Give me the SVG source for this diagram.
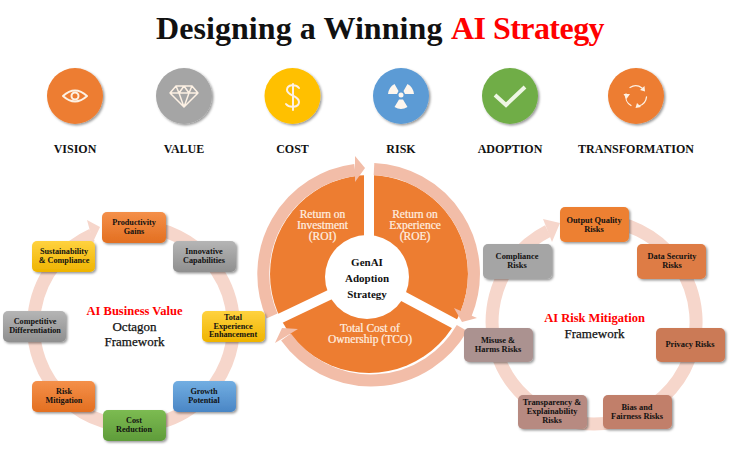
<svg xmlns="http://www.w3.org/2000/svg" width="730" height="450" viewBox="0 0 730 450">
<defs>
<filter id="sh" x="-20%" y="-20%" width="150%" height="150%"><feDropShadow dx="1.5" dy="1.5" stdDeviation="1.2" flood-color="#000" flood-opacity="0.4"/></filter>
<linearGradient id="gO" x1="0" y1="0" x2="0" y2="1"><stop offset="0" stop-color="#f4904a"/><stop offset="1" stop-color="#e36f20"/></linearGradient>
<linearGradient id="gG" x1="0" y1="0" x2="0" y2="1"><stop offset="0" stop-color="#b5b5b5"/><stop offset="1" stop-color="#8f8f8f"/></linearGradient>
<linearGradient id="gY" x1="0" y1="0" x2="0" y2="1"><stop offset="0" stop-color="#ffd23f"/><stop offset="1" stop-color="#efb400"/></linearGradient>
<linearGradient id="gB" x1="0" y1="0" x2="0" y2="1"><stop offset="0" stop-color="#72aee2"/><stop offset="1" stop-color="#4a86c5"/></linearGradient>
<linearGradient id="gN" x1="0" y1="0" x2="0" y2="1"><stop offset="0" stop-color="#7cbb52"/><stop offset="1" stop-color="#5f9c3a"/></linearGradient>
</defs>
<style>
text{font-family:"Liberation Serif","Times New Roman",serif;fill:#111;text-anchor:middle}
.t{font-size:32px;font-weight:700;text-anchor:start}
.red{fill:#f00}
.l{font-size:12px;font-weight:700}
.n{font-size:8.2px;font-weight:700}
.m{font-size:8.4px;font-weight:700}
.c{font-size:11px;font-weight:700}
.w{font-size:11.5px;fill:#fff0e2;stroke:#fff0e2;stroke-width:.2}
.f{font-size:12.5px;font-weight:700}
.g{font-size:13px;stroke:#111;stroke-width:.25}
.box{filter:url(#sh);stroke:none}
.ring{fill:none;stroke:#f6d6cb;stroke-width:13}
.band{fill:none;stroke:#f2bda8;stroke-width:12}
.ic{fill:none;stroke:#fdf1e4;stroke-linecap:round;stroke-linejoin:round}
</style>
<rect width="730" height="450" fill="#fff"/>
<text class="t" x="156" y="39" letter-spacing="0.07">Designing a Winning</text>
<text class="t red" x="451" y="39" letter-spacing="-0.55">AI Strategy</text>

<g id="vision"><circle class="box" cx="75" cy="96" r="28" fill="#ed7d31"/><path class="ic" stroke-width="2" d="M63 96Q75 85 87 96Q75 107 63 96Z"/><circle class="ic" stroke-width="2" cx="75" cy="96" r="3.500"/><text class="l" x="75" y="153">VISION</text></g>
<g id="value"><circle class="box" cx="184" cy="96" r="28" fill="#a5a5a5"/><path class="ic" stroke-width="1.5" d="M176 86H192L198 93L184 107L170 93ZM170 93H198M176 86L179 93L184 107L189 93L192 86M179 93L184 86L189 93"/><text class="l" x="184" y="153">VALUE</text></g>
<g id="cost"><circle class="box" cx="292.500" cy="96" r="28" fill="#ffc000"/><path class="ic" stroke-width="2" d="M299 88C296 84 287 84 287 90C287 96 299 95 299 102C299 108 289 108 286 104M293 84V110"/><text class="l" x="292.500" y="153">COST</text></g>
<g id="risk"><circle class="box" cx="401" cy="96" r="28" fill="#5b9bd5"/><path fill="#fdf6ee" d="M388 94A13 13 0 0 1 394.500 84L398.500 91L397 94ZM414 94A13 13 0 0 0 407.500 84L403.500 91L405 94ZM394.500 107A13 13 0 0 0 407.500 107L403 99.500H399Z"/><circle cx="401" cy="95" r="2.500" fill="#fdf6ee"/><text class="l" x="401" y="153">RISK</text></g>
<g id="adoption"><circle class="box" cx="510" cy="96" r="28" fill="#70ad47"/><path fill="none" stroke="#eef6e4" stroke-width="4" d="M495 95L506 105L525 87"/><text class="l" x="510" y="153">ADOPTION</text></g>
<g id="transformation"><circle class="box" cx="636" cy="96" r="28" fill="#ed7d31"/><path class="ic" stroke-width="1.3" d="M630 87.500A10.500 10.500 0 0 1 642 88M646.500 97A10.500 10.500 0 0 1 639 106M631 105.500A10.500 10.500 0 0 1 626 94"/><path fill="#fdf1e4" d="M644.500 86L645 91.500L640 90ZM637 103L641 107L635.500 108ZM623.500 94L630 94L626.500 99Z"/><text class="l" x="636" y="153">TRANSFORMATION</text></g>

<g id="connectors">
<path class="ring" d="M134 226A100 100 0 1 1 92 235"/>
<polygon fill="#f6d6cb" points="87,220 100,227 93,242"/>
<path class="ring" d="M594.500 220A102 102 0 1 1 548 231"/>
<polygon fill="#f6d6cb" points="543,219 560,223 552,242"/>
</g>

<g id="center">
<circle cx="369" cy="274" r="99" fill="#ed7d31"/>
<path stroke="#fff" stroke-width="10" fill="none" d="M369 150V277M367 277L262 327M367 277L470 332"/>
<path class="band" d="M272 316A105 105 0 0 1 355 170"/>
<polygon fill="#f2bda8" points="355,156 365,168 355,182"/>
<path class="band" d="M374 169A105 105 0 0 1 466 314"/>
<polygon fill="#f2bda8" points="454,308 477,318 462,322"/>
<path class="band" d="M462 328A105 105 0 0 1 286 337"/>
<polygon fill="#f2bda8" points="298,329 275,343 282,328"/>
<circle cx="367" cy="277" r="42" fill="#fff"/>
<text class="w" x="322.500" y="218">Return on</text><text class="w" x="322.500" y="229">Investment</text><text class="w" x="322.500" y="240">(ROI)</text>
<text class="w" x="415" y="218">Return on</text><text class="w" x="415" y="229">Experience</text><text class="w" x="415" y="240">(ROE)</text>
<text class="w" x="370" y="332">Total Cost of</text><text class="w" x="370" y="343">Ownership (TCO)</text>
<text class="c" x="367" y="266">GenAI</text><text class="c" x="367" y="282">Adoption</text><text class="c" x="367" y="298">Strategy</text>
</g>

<g id="n1"><rect class="box" x="102" y="212" width="64" height="31" rx="5" fill="url(#gO)"/><text class="n" x="134" y="225">Productivity</text><text class="n" x="134" y="233.500">Gains</text></g>
<g id="n2"><rect class="box" x="173" y="241" width="63" height="31" rx="5" fill="url(#gG)"/><text class="n" x="204" y="254">Innovative</text><text class="n" x="204" y="262.500">Capabilities</text></g>
<g id="n3"><rect class="box" x="202" y="311" width="63" height="31" rx="5" fill="url(#gY)"/><text class="n" x="233" y="320">Total</text><text class="n" x="233" y="328.500">Experience</text><text class="n" x="233" y="337">Enhancement</text></g>
<g id="n4"><rect class="box" x="173" y="381" width="63" height="31" rx="5" fill="url(#gB)"/><text class="n" x="204" y="394">Growth</text><text class="n" x="204" y="402.500">Potential</text></g>
<g id="n5"><rect class="box" x="103" y="410" width="63" height="31" rx="5" fill="url(#gN)"/><text class="n" x="134" y="423">Cost</text><text class="n" x="134" y="431.500">Reduction</text></g>
<g id="n6"><rect class="box" x="32" y="381" width="63" height="31" rx="5" fill="url(#gO)"/><text class="n" x="64" y="394">Risk</text><text class="n" x="64" y="402.500">Mitigation</text></g>
<g id="n7"><rect class="box" x="3" y="311" width="63" height="31" rx="5" fill="url(#gG)"/><text class="n" x="35" y="324">Competitive</text><text class="n" x="35" y="332.500">Differentiation</text></g>
<g id="n8"><rect class="box" x="32" y="241" width="63" height="31" rx="5" fill="url(#gY)"/><text class="n" x="64" y="254">Sustainability</text><text class="n" x="64" y="262.500">&amp; Compliance</text></g>

<g id="r1"><rect class="box" x="560" y="207" width="69" height="35" rx="5" fill="#ed8033"/><text class="m" x="594" y="222.500">Output Quality</text><text class="m" x="594" y="231.500">Risks</text></g>
<g id="r2"><rect class="box" x="637" y="244" width="69" height="35" rx="5" fill="#de7c45"/><text class="m" x="672" y="259">Data Security</text><text class="m" x="672" y="268">Risks</text></g>
<g id="r3"><rect class="box" x="656" y="328" width="69" height="34" rx="5" fill="#cb7a56"/><text class="m" x="690" y="347">Privacy Risks</text></g>
<g id="r4"><rect class="box" x="603" y="395" width="69" height="34" rx="5" fill="#c17f6b"/><text class="m" x="637" y="410">Bias and</text><text class="m" x="637" y="419">Fairness Risks</text></g>
<g id="r5"><rect class="box" x="518" y="395" width="69" height="34" rx="5" fill="#b78a81"/><text class="m" x="552" y="405">Transparency &amp;</text><text class="m" x="552" y="414">Explainability</text><text class="m" x="552" y="423">Risks</text></g>
<g id="r6"><rect class="box" x="464" y="328" width="69" height="34" rx="5" fill="#ab9290"/><text class="m" x="498" y="343">Misuse &amp;</text><text class="m" x="498" y="352">Harms Risks</text></g>
<g id="r7"><rect class="box" x="483" y="244" width="69" height="35" rx="5" fill="#a5a5a5"/><text class="m" x="517" y="259">Compliance</text><text class="m" x="517" y="268">Risks</text></g>

<g id="left-label"><text class="f" x="134.500" y="315" style="fill:#f00">AI Business Value</text><text class="g" x="134.500" y="331">Octagon</text><text class="g" x="134.500" y="346">Framework</text></g>
<g id="right-label"><text class="f" x="594.500" y="322" style="fill:#f00">AI Risk Mitigation</text><text class="g" x="594.500" y="338">Framework</text></g>
</svg>
